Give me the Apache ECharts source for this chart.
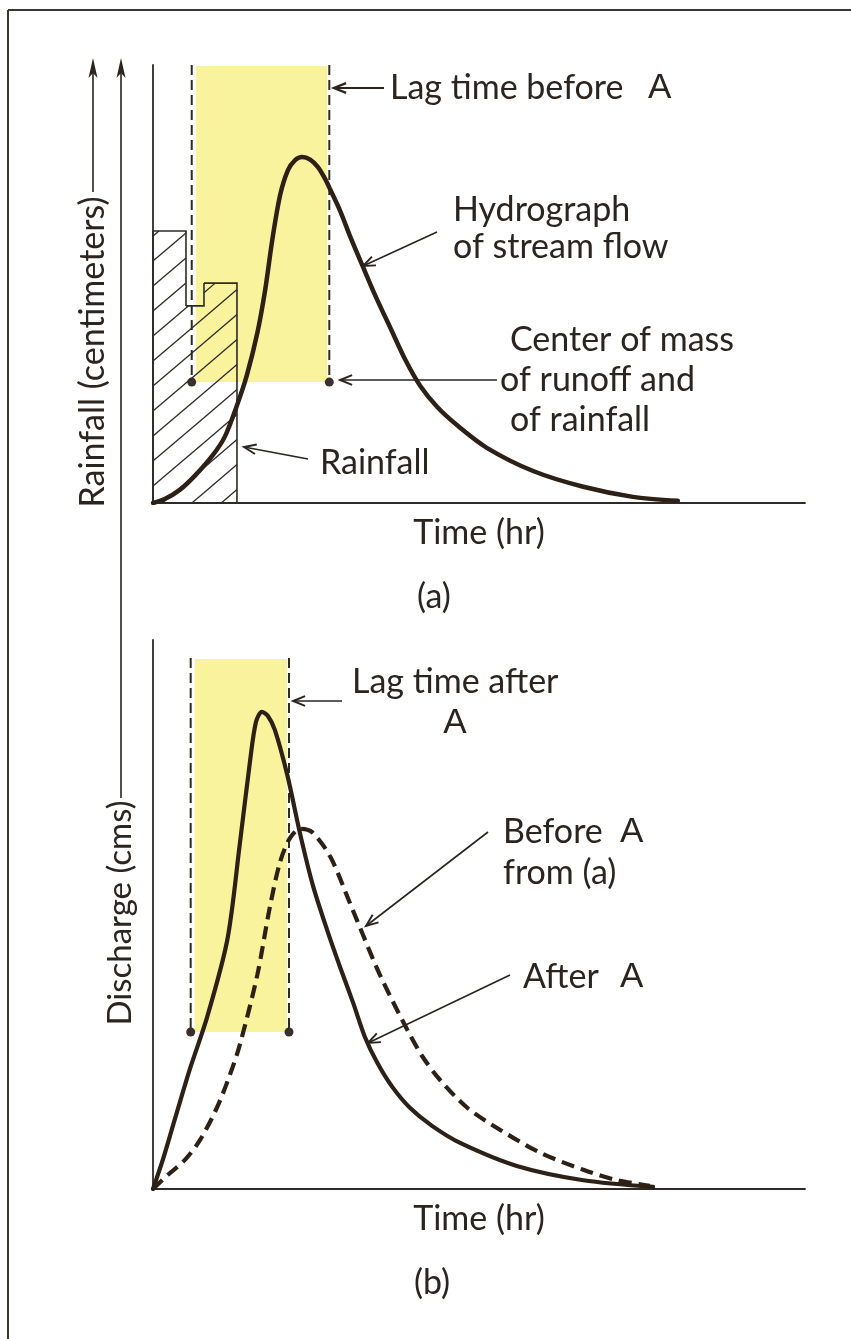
<!DOCTYPE html>
<html>
<head>
<meta charset="utf-8">
<script src="https://cdn.jsdelivr.net/npm/echarts@6/dist/echarts.min.js"></script>
<style>
html,body{margin:0;padding:0;background:#ffffff;}
#c{width:851px;height:1339px;}
</style>
</head>
<body>
<div id="c"></div>
<script>
// ---------------- DATA (arbitrary units 0-100) ----------------
const timeLabel = 'Time (hr)';
const rainAxisLabel = 'Rainfall (centimeters)';
const dischargeAxisLabel = 'Discharge (cms)';

// rainfall blocks (panel a)
const rainStart = [0, 5.06, 7.82];
const rainEnd   = [5.06, 7.82, 12.88];
const rainDepth = [62.1, 45.0, 50.2];

// hydrograph of stream flow before A (panel a)
const hydroBeforeA = [
  [0,0],[1.8,0.9],[4.1,3.0],[6.4,6.2],[9.2,11.0],[11.0,15.1],[12.9,22.4],[14.4,29.2],
  [16.0,38.8],[17.2,48.6],[18.3,60.1],[19.5,70.3],[20.7,76.0],[21.8,78.3],[22.9,79.0],
  [24.1,78.4],[25.3,76.7],[26.4,74.0],[27.2,71.5],[28.7,66.7],[30.2,61.0],[32.1,54.3],[34.2,47.0],
  [36.4,40.0],[38.7,32.7],[41.0,26.7],[43.6,21.9],[46.6,17.8],[51.2,12.6],[58.3,7.3],
  [66.0,3.7],[73.6,1.4],[80.5,0.5]
];

// centres of mass (time) and level of the markers, panel a
const lagA = [5.94, 27.04];
const lagLevelA = 27.6;
const lagTopA = 100;

// panel b: after A (solid) and before A from (a) (dashed)
const hydroAfterA = [
  [0,0],[1.5,5.3],[3.4,12.9],[5.7,22.0],[8.3,31.3],[11.4,45.4],[13.3,62.7],[14.9,78.1],
  [15.8,85.1],[16.7,86.9],[17.6,86.2],[18.7,83.6],[20.6,75.4],[22.6,64.5],[24.5,55.4],
  [26.7,47.2],[28.7,40.4],[30.7,33.9],[32.5,27.7],[34.4,23.0],[36.7,18.6],[39.4,14.8],
  [42.8,11.5],[47.1,8.4],[55.8,4.2],[66.0,1.6],[76.7,0.4]
];
const hydroBeforeFromA = [
  [0,0],[2.3,2.6],[4.9,5.3],[7.2,8.9],[9.8,14.8],[11.8,20.8],[13.3,26.2],[16.0,39.0],
  [17.9,51.2],[19.5,59.6],[21.0,63.9],[22.6,65.6],[24.4,65.0],[27.2,60.5],[30.2,52.1],
  [32.2,46.3],[34.8,39.0],[39.0,29.0],[41.4,24.0],[44.0,19.9],[48.2,14.8],[53.2,10.8],
  [59.4,6.6],[66.0,3.5],[71.2,1.6],[76.2,0.6]
];
const lagB = [5.78, 20.86];
const lagLevelB = 28.6;
const lagTopB = 96.7;

// ---------------- STYLE ----------------
const FONT = 'Lato, "Noto Sans", sans-serif';
const FONT_A = '"Liberation Sans", Arial, sans-serif';
const INK = '#2b241f';
const CURVE = '#2d2016';
const YELLOW = '#f8f39c';
const FS = 34;

const chart = echarts.init(document.getElementById('c'), null, {renderer: 'canvas'});

function txt(x, y, text, o) {
  o = o || {};
  return {
    type: 'text', x: x, y: y, z: 60, rotation: o.rotation || 0,
    style: {
      text: text, fill: INK,
      font: (o.size || FS) + 'px ' + (o.family || FONT),
      textAlign: o.align || 'left', textVerticalAlign: 'middle'
    }
  };
}
function arrow(x1, y1, x2, y2, w) {
  w = w || 1.6;
  const ang = Math.atan2(y2 - y1, x2 - x1);
  const L = 13, sp = 0.38;
  const h1 = [x2 - L * Math.cos(ang - sp), y2 - L * Math.sin(ang - sp)];
  const h2 = [x2 - L * Math.cos(ang + sp), y2 - L * Math.sin(ang + sp)];
  return [
    {type: 'line', z: 60, shape: {x1: x1, y1: y1, x2: x2, y2: y2}, style: {stroke: INK, lineWidth: w}},
    {type: 'polyline', z: 60, shape: {points: [h1, [x2, y2], h2]}, style: {stroke: INK, lineWidth: w + 0.3, fill: null}}
  ];
}
function upArrow(x, yTop, yBottom) {
  return [
    {type: 'line', z: 60, shape: {x1: x, y1: yBottom, x2: x, y2: yTop + 8}, style: {stroke: INK, lineWidth: 1.6}},
    {type: 'polygon', z: 60, shape: {points: [[x, yTop], [x - 4.5, yTop + 20], [x, yTop + 15], [x + 4.5, yTop + 20]]}, style: {fill: INK}}
  ];
}

function lagRender(params, api) {
  const p1 = api.coord([api.value(0), api.value(2)]);
  const p2 = api.coord([api.value(1), api.value(2)]);
  const top = api.coord([api.value(0), api.value(3)])[1];
  const dash = {stroke: '#2e2a26', lineWidth: 2, lineDash: [10, 5]};
  return {
    type: 'group',
    children: [
      {type: 'rect', shape: {x: p1[0] + 4, y: top + 1, width: p2[0] - p1[0] - 6, height: p1[1] - top - 1}, style: {fill: YELLOW}},
      {type: 'line', shape: {x1: p1[0], y1: top, x2: p1[0], y2: p1[1]}, style: dash},
      {type: 'line', shape: {x1: p2[0], y1: top, x2: p2[0], y2: p2[1]}, style: dash},
      {type: 'circle', shape: {cx: p1[0], cy: p1[1], r: 4.5}, style: {fill: '#3a302b'}},
      {type: 'circle', shape: {cx: p2[0], cy: p2[1], r: 4.5}, style: {fill: '#3a302b'}}
    ]
  };
}

function rainRender(params, api) {
  const s = api.value(0), e = api.value(1), d = api.value(2), i = api.value(3);
  const o = api.coord([0, 0]);
  const pB = api.coord([s, 0]);
  const pT = api.coord([e, d]);
  const x0 = pB[0], yB = pB[1], x1 = pT[0], yT = pT[1];
  const nextD = (i + 1 < rainDepth.length) ? rainDepth[i + 1] : 0;
  const yN = api.coord([e, nextD])[1];
  const children = [];
  const slope = 0.85, gap = 25;
  for (let n = -2; n < 80; n++) {
    const cc = o[1] - n * gap + 8; // hatch line: y = cc - slope*(x - ox)
    const xa = o[0] + (cc - yB) / slope, xb = o[0] + (cc - yT) / slope;
    const lo = Math.max(xa, x0), hi = Math.min(xb, x1);
    if (hi - lo > 0.5) {
      children.push({type: 'line', shape: {x1: lo, y1: cc - slope * (lo - o[0]), x2: hi, y2: cc - slope * (hi - o[0])},
        style: {stroke: '#2e2a26', lineWidth: 1.3}});
    }
  }
  children.push({type: 'polyline', shape: {points: [[x0, yT], [x1, yT], [x1, yN]]}, style: {stroke: '#2e2a26', lineWidth: 1.6, fill: null}});
  if (i === 0) children.push({type: 'line', shape: {x1: x0, y1: yB, x2: x0, y2: yT}, style: {stroke: '#2e2a26', lineWidth: 1.6}});
  return {type: 'group', children: children};
}

const axisStyle = {show: true, onZero: false, lineStyle: {color: '#2e2a26', width: 1.8}};

const option = {
  animation: false,
  backgroundColor: '#ffffff',
  grid: [
    {left: 153, top: 65, width: 652, height: 438},
    {left: 153, top: 640, width: 652, height: 549}
  ],
  xAxis: [0, 1].map(function (i) {
    return {
      type: 'value', gridIndex: i, min: 0, max: 100,
      axisLine: axisStyle, axisTick: {show: false}, axisLabel: {show: false}, splitLine: {show: false},
      name: timeLabel, nameLocation: 'middle', nameGap: 30,
      nameTextStyle: {color: INK, fontSize: FS, fontFamily: FONT, verticalAlign: 'middle'}
    };
  }),
  yAxis: [0, 1].map(function (i) {
    return {
      type: 'value', gridIndex: i, min: 0, max: 100,
      axisLine: axisStyle, axisTick: {show: false}, axisLabel: {show: false}, splitLine: {show: false}
    };
  }),
  series: [
    {type: 'custom', xAxisIndex: 0, yAxisIndex: 0, z: 1, silent: true,
      data: [[lagA[0], lagA[1], lagLevelA, lagTopA]], renderItem: lagRender},
    {type: 'custom', xAxisIndex: 0, yAxisIndex: 0, z: 2, silent: true,
      data: rainStart.map(function (s, i) { return [s, rainEnd[i], rainDepth[i], i]; }), renderItem: rainRender},
    {type: 'line', xAxisIndex: 0, yAxisIndex: 0, z: 3, data: hydroBeforeA, showSymbol: false,
      smooth: 0.3, lineStyle: {color: CURVE, width: 4.5, cap: 'round'}},
    {type: 'custom', xAxisIndex: 1, yAxisIndex: 1, z: 1, silent: true,
      data: [[lagB[0], lagB[1], lagLevelB, lagTopB]], renderItem: lagRender},
    {type: 'line', xAxisIndex: 1, yAxisIndex: 1, z: 3, data: hydroAfterA, showSymbol: false,
      smooth: 0.3, lineStyle: {color: CURVE, width: 4.2, cap: 'round'}},
    {type: 'line', xAxisIndex: 1, yAxisIndex: 1, z: 3, data: hydroBeforeFromA, showSymbol: false,
      smooth: 0.3, lineStyle: {color: CURVE, width: 4.2, type: [13, 7]}}
  ],
  graphic: {
    elements: [].concat(
      // frame
      [{type: 'line', z: 60, shape: {x1: 8, y1: 10, x2: 851, y2: 10}, style: {stroke: '#3a3632', lineWidth: 2}},
       {type: 'line', z: 60, shape: {x1: 8, y1: 10, x2: 8, y2: 1339}, style: {stroke: '#3a3632', lineWidth: 2}}],
      // left axis titles with arrows
      [txt(93, 352, rainAxisLabel, {align: 'center', rotation: Math.PI / 2})],
      upArrow(93, 58, 192),
      [txt(120, 913, dischargeAxisLabel, {align: 'center', rotation: Math.PI / 2, size: 33})],
      upArrow(121, 58, 798),
      // panel a labels
      [txt(390, 88, 'Lag time before'), txt(648, 88, 'A', {family: FONT_A, size: 35})],
      arrow(384, 88, 334, 88, 2),
      [txt(453, 210, 'Hydrograph'), txt(453, 247, 'of stream flow')],
      arrow(437, 232, 363, 266),
      [txt(510, 340, 'Center of mass'), txt(500, 380, 'of runoff and'), txt(510, 420, 'of rainfall')],
      arrow(497, 380, 340, 380),
      [txt(320, 463, 'Rainfall')],
      arrow(308, 459, 244, 447),
      [txt(434, 597, '(a)', {align: 'center'})],
      // panel b labels
      [txt(352, 682, 'Lag time after'), txt(455, 723, 'A', {family: FONT_A, size: 35, align: 'center'})],
      arrow(342, 701, 293, 701),
      [txt(503, 832, 'Before'), txt(620, 832, 'A', {family: FONT_A, size: 35}), txt(503, 873, 'from (a)')],
      arrow(488, 832, 366, 926),
      [txt(523, 977, 'After'), txt(620, 977, 'A', {family: FONT_A, size: 35})],
      arrow(510, 975, 368, 1043),
      [txt(432, 1283, '(b)', {align: 'center'})]
    )
  }
};
chart.setOption(option);
</script>
</body>
</html>
